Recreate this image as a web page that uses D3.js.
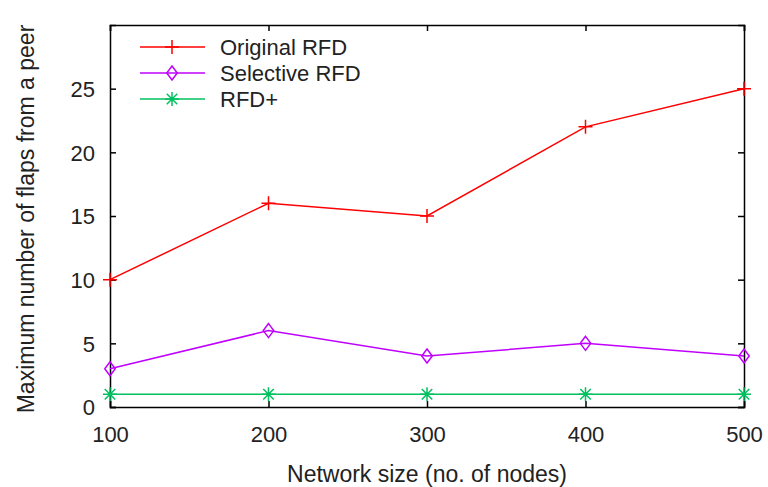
<!DOCTYPE html>
<html lang="en">
  <head>
    <meta charset="UTF-8" />
    <title>Flaps chart</title>
    <style>
      body { margin: 0; background: #fff; }
      text { font-family: "Liberation Sans", Arial, sans-serif; fill: #222; }
    </style>
  </head>
  <body>
    <svg id="svg" width="768" height="487"></svg>
    <script src="https://d3js.org/d3.v7.min.js"></script>
    <script>
      const nodes = [100, 200, 300, 400, 500];
      const originalRfd = [10, 16, 15, 22, 25];
      const selectiveRfd = [3, 6, 4, 5, 4];
      const rfdPlus = [1, 1, 1, 1, 1];
      const yTicks = [0, 5, 10, 15, 20, 25];
      const seriesNames = ["Original RFD", "Selective RFD", "RFD+"];

      const margin = { top: 25, right: 24, bottom: 80, left: 110 };
      const svgWidth = 768;
      const svgHeight = 487;
      const width = svgWidth - margin.left - margin.right;
      const height = svgHeight - margin.top - margin.bottom;

      const svg = d3.select("#svg");
      const chart = svg
        .append("g")
        .attr("transform", `translate(${margin.left}, ${margin.top})`);

      const xScale = d3.scaleLinear().domain([100, 500]).range([0, width]);
      const yScale = d3.scaleLinear().domain([0, 30]).range([height, 0]);

      const series = [
        { name: seriesNames[0], values: originalRfd, color: "#ff0000", marker: "plus" },
        { name: seriesNames[1], values: selectiveRfd, color: "#c000ff", marker: "diamond" },
        { name: seriesNames[2], values: rfdPlus, color: "#00c060", marker: "star" },
      ];

      // axes: ticks inward, mirrored on top/right
      const fontSize = 22;
      const xAxis = chart
        .append("g")
        .attr("transform", `translate(0, ${height})`)
        .call(d3.axisBottom(xScale).tickValues(nodes).tickSize(-6).tickPadding(16));
      const yAxis = chart
        .append("g")
        .call(d3.axisLeft(yScale).tickValues(yTicks).tickSize(-6).tickPadding(15));
      chart
        .append("g")
        .call(d3.axisTop(xScale).tickValues(nodes).tickSize(-6).tickFormat(""));
      chart
        .append("g")
        .attr("transform", `translate(${width}, 0)`)
        .call(d3.axisRight(yScale).tickValues(yTicks).tickSize(-6).tickFormat(""));

      chart.selectAll(".domain").attr("stroke", "#000").attr("stroke-width", 1.5);
      chart.selectAll(".tick line").attr("stroke", "#000").attr("stroke-width", 1.5);
      chart.selectAll(".tick text").style("font-size", fontSize + "px").attr("fill", "#222");
      xAxis.selectAll(".tick text").attr("dy", "0.85em");
      yAxis.selectAll(".tick text").attr("dy", "0.35em");

      // marker paths
      function markerPath(type, s) {
        if (type === "plus") {
          return `M${-s},0H${s}M0,${-s}V${s}`;
        }
        if (type === "diamond") {
          return `M0,${-s}L${s * 0.75},0L0,${s}L${-s * 0.75},0Z`;
        }
        // star: plus + x
        const d = s * 0.75;
        return `M${-s},0H${s}M0,${-s}V${s}M${-d},${-d}L${d},${d}M${-d},${d}L${d},${-d}`;
      }

      const line = d3
        .line()
        .x((d, i) => xScale(nodes[i]))
        .y((d) => yScale(d));

      series.forEach((s) => {
        chart
          .append("path")
          .datum(s.values)
          .attr("fill", "none")
          .attr("stroke", s.color)
          .attr("stroke-width", 1.5)
          .attr("d", line);

        chart
          .append("g")
          .selectAll("path")
          .data(s.values)
          .join("path")
          .attr("transform", (d, i) => `translate(${xScale(nodes[i])}, ${yScale(d)})`)
          .attr("d", markerPath(s.marker, 7))
          .attr("fill", "none")
          .attr("stroke", s.color)
          .attr("stroke-width", 1.5);
      });

      // legend
      const legend = chart.append("g").attr("transform", "translate(30, 22)");
      series.forEach((s, i) => {
        const row = legend.append("g").attr("transform", `translate(0, ${i * 26})`);
        row
          .append("line")
          .attr("x1", 0)
          .attr("x2", 65)
          .attr("stroke", s.color)
          .attr("stroke-width", 1.5);
        row
          .append("path")
          .attr("transform", "translate(32, 0)")
          .attr("d", markerPath(s.marker, 7))
          .attr("fill", "none")
          .attr("stroke", s.color)
          .attr("stroke-width", 1.5);
        row
          .append("text")
          .attr("x", 80)
          .attr("dy", "0.35em")
          .style("font-size", fontSize + "px")
          .text(s.name);
      });

      // axis titles
      svg
        .append("text")
        .attr("x", margin.left + width / 2)
        .attr("y", 482)
        .attr("text-anchor", "middle")
        .style("font-size", "23px")
        .text("Network size (no. of nodes)");

      svg
        .append("text")
        .attr("transform", `translate(34, ${margin.top + 194}) rotate(-90)`)
        .attr("text-anchor", "middle")
        .style("font-size", "23px")
        .text("Maximum number of flaps from a peer");
    </script>
  </body>
</html>
